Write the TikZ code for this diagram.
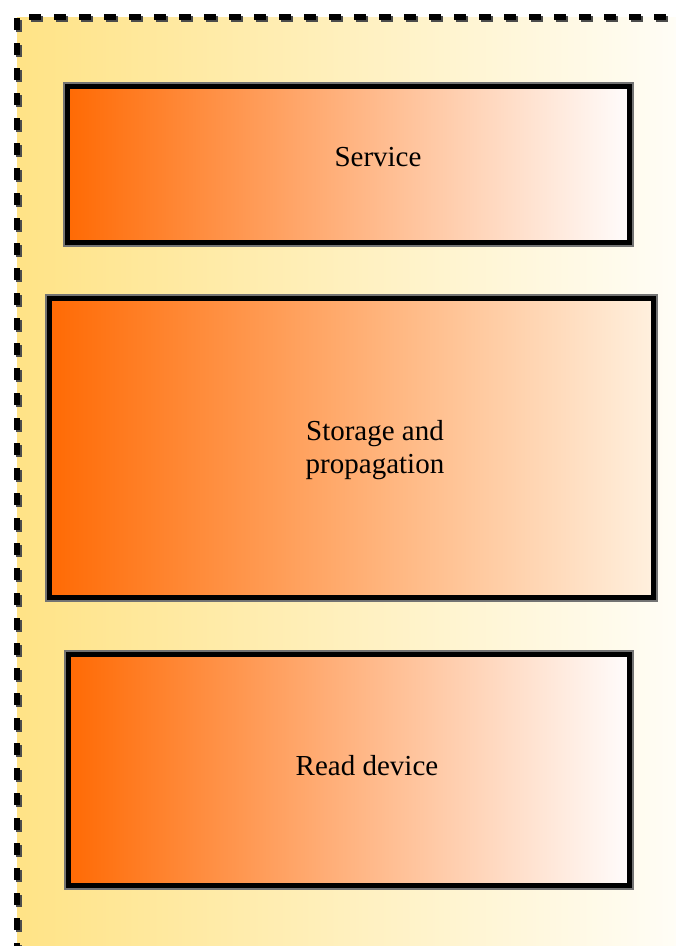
\documentclass[tikz,border=0pt]{standalone}
\usepackage{fontspec}
\setmainfont{Liberation Serif}
\usetikzlibrary{positioning}
\definecolor{bgyellow}{RGB}{255,227,134}
\definecolor{bgwhite}{RGB}{255,254,250}
\definecolor{boxorange}{RGB}{255,106,4}
\definecolor{boxwhite}{RGB}{255,252,252}
\definecolor{boxpeach}{RGB}{255,240,222}
\begin{document}
\begin{tikzpicture}[x=1pt,y=-1pt,
   layer/.style={rectangle,inner sep=0pt,outer sep=0pt,draw=black,line width=5pt,
      left color=boxorange,right color=boxwhite,
      preaction={draw=black!55,line width=9pt}},
   lbl/.style={inner sep=0pt,align=center,font=\fontsize{29}{32.5}\selectfont}]
   \clip (0,0) rectangle (676,946);
   \fill[left color=bgyellow,right color=bgwhite] (17,17) rectangle (700,970);
   \draw[black!70,line width=6pt,dash pattern=on 12pt off 13pt,xshift=2pt,yshift=-2pt]
      (17,980) -- (17,17) -- (700,17);
   \draw[black,line width=6pt,dash pattern=on 12pt off 13pt]
      (17,980) -- (17,17) -- (700,17);
   \node[layer,minimum width=562pt,minimum height=156pt] (service) at (348,164) {};
   \node[layer,right color=boxpeach,minimum width=604pt,minimum height=299pt] (storage) at (351,447.5) {};
   \node[layer,minimum width=561pt,minimum height=231pt] (read) at (348.5,769.5) {};
   \node[lbl] (serviceText) at (378,157) {Service};
   \node[lbl] (storageText) at (375,450) {Storage and\\propagation};
   \node[lbl] (readText) at (367,766) {Read device};
\end{tikzpicture}
\end{document}
